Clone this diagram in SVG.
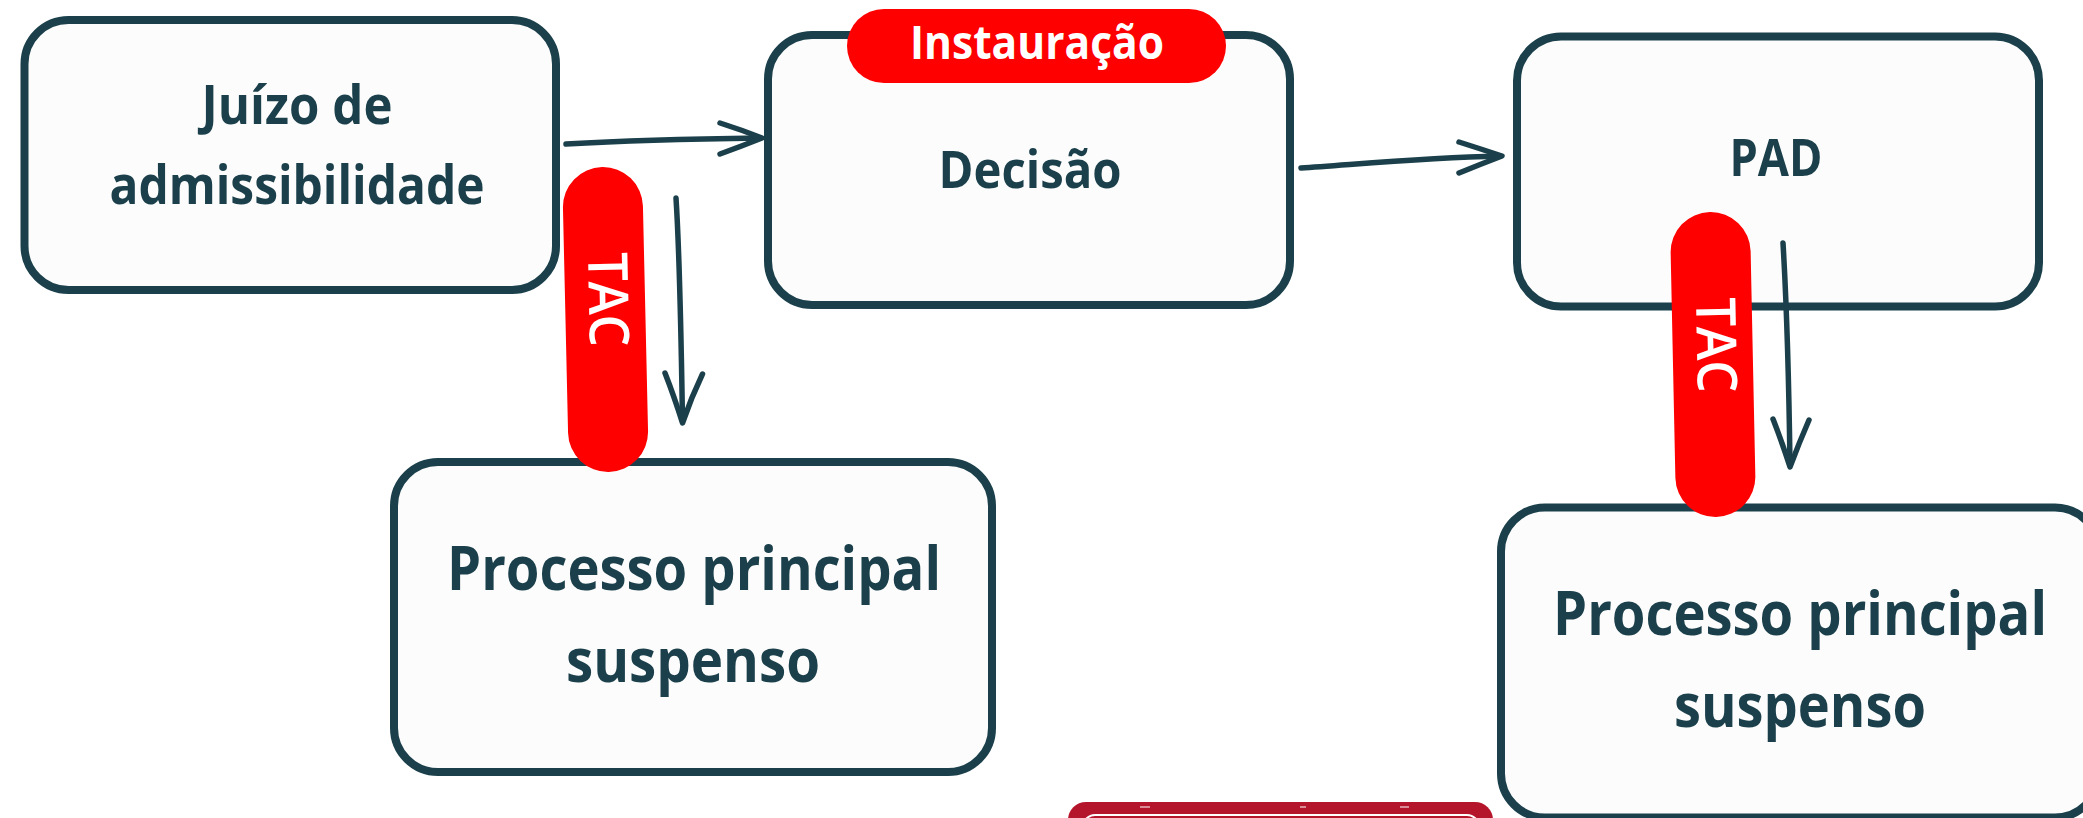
<svg xmlns="http://www.w3.org/2000/svg" width="2083" height="818" viewBox="0 0 2083 818">
  <defs>
    <style>
      .box { fill: #fcfcfc; stroke: #1b404b; stroke-width: 8; }
      .lbl { font-family: "Open Sans", "Liberation Sans", sans-serif; font-weight: 700; fill: #1b404b; text-anchor: middle; }
      .pill { fill: #ff0000; }
      .plbl { font-family: "Open Sans", "Liberation Sans", sans-serif; fill: #ffffff; text-anchor: middle; }
      .edge { fill: none; stroke: #1b404b; stroke-width: 5.5; stroke-linecap: round; stroke-linejoin: round; }
    </style>
  </defs>
  <rect width="2083" height="818" fill="#ffffff"/>

  <g id="node-juizo">
    <rect class="box" x="24.5" y="20" width="531.5" height="270" rx="44"/>
    <text class="lbl" x="297" y="124" font-size="53" textLength="191" lengthAdjust="spacingAndGlyphs">Juízo de</text>
    <text class="lbl" x="297" y="204" font-size="53" textLength="375" lengthAdjust="spacingAndGlyphs">admissibilidade</text>
  </g>

  <g id="node-decisao">
    <rect class="box" x="768" y="35" width="522" height="270" rx="44"/>
    <text class="lbl" x="1030" y="188" font-size="52" textLength="183" lengthAdjust="spacingAndGlyphs">Decisão</text>
  </g>

  <g id="node-pad">
    <rect class="box" x="1517" y="36.5" width="522" height="270" rx="44"/>
    <text class="lbl" x="1776" y="176" font-size="52" textLength="93" lengthAdjust="spacingAndGlyphs">PAD</text>
  </g>

  <g id="node-processo-1">
    <rect class="box" x="394" y="462" width="598" height="310" rx="44"/>
    <text class="lbl" x="694" y="590" font-size="60" textLength="494" lengthAdjust="spacingAndGlyphs">Processo principal</text>
    <text class="lbl" x="693" y="682" font-size="60" textLength="254" lengthAdjust="spacingAndGlyphs">suspenso</text>
  </g>

  <g id="node-processo-2">
    <rect class="box" x="1501" y="507.5" width="598" height="310" rx="44"/>
    <text class="lbl" x="1800" y="635" font-size="60" textLength="494" lengthAdjust="spacingAndGlyphs">Processo principal</text>
    <text class="lbl" x="1800" y="727" font-size="60" textLength="252" lengthAdjust="spacingAndGlyphs">suspenso</text>
  </g>

  <g id="connectors">
    <path class="edge" d="M566,144 C620,141 690,139 760,138"/>
    <path class="edge" d="M720,123 Q742,130 762,138 Q742,146 720,154"/>
    <path class="edge" d="M1301,168 C1350,165 1420,158 1500,156"/>
    <path class="edge" d="M1459,142 Q1481,149 1502,156 Q1481,164 1459,173"/>
    <path class="edge" d="M676,198 C680,260 681,330 682.5,421"/>
    <path class="edge" d="M665,373 Q674,396 682.5,423 Q691,398 702.5,374"/>
    <path class="edge" d="M1783,243 C1787,310 1789,390 1790,465"/>
    <path class="edge" d="M1773,419 Q1782,442 1790,467 Q1799,443 1809,420"/>
  </g>

  <g id="label-instauracao">
    <rect class="pill" x="847" y="9" width="379" height="74" rx="37"/>
    <text class="plbl" x="1037" y="59" font-size="47" font-weight="700" textLength="254" lengthAdjust="spacingAndGlyphs">Instauração</text>
  </g>

  <g id="label-tac-1">
    <rect class="pill" x="-40" y="-152.5" width="80" height="305" rx="40" transform="translate(605.5,319.5) rotate(-1.3)"/>
    <text class="plbl" font-size="55" font-weight="600" textLength="94" lengthAdjust="spacingAndGlyphs" transform="translate(589,300) rotate(88.7)">TAC</text>
  </g>

  <g id="label-tac-2">
    <rect class="pill" x="-40" y="-152.5" width="80" height="305" rx="40" transform="translate(1713,364.5) rotate(-1.2)"/>
    <text class="plbl" font-size="55" font-weight="600" textLength="95" lengthAdjust="spacingAndGlyphs" transform="translate(1697,345.5) rotate(88.8)">TAC</text>
  </g>

  <g id="stamp">
    <rect x="1068" y="802" width="425" height="40" rx="18" fill="#b5152b"/>
    <rect x="1083" y="815" width="396" height="30" rx="12" fill="none" stroke="#ffffff" stroke-width="2"/>
    <path d="M1140,807 h10 M1300,807 h6 M1400,807 h9" stroke="#ffffff" stroke-width="1.2" fill="none"/>
  </g>
</svg>
